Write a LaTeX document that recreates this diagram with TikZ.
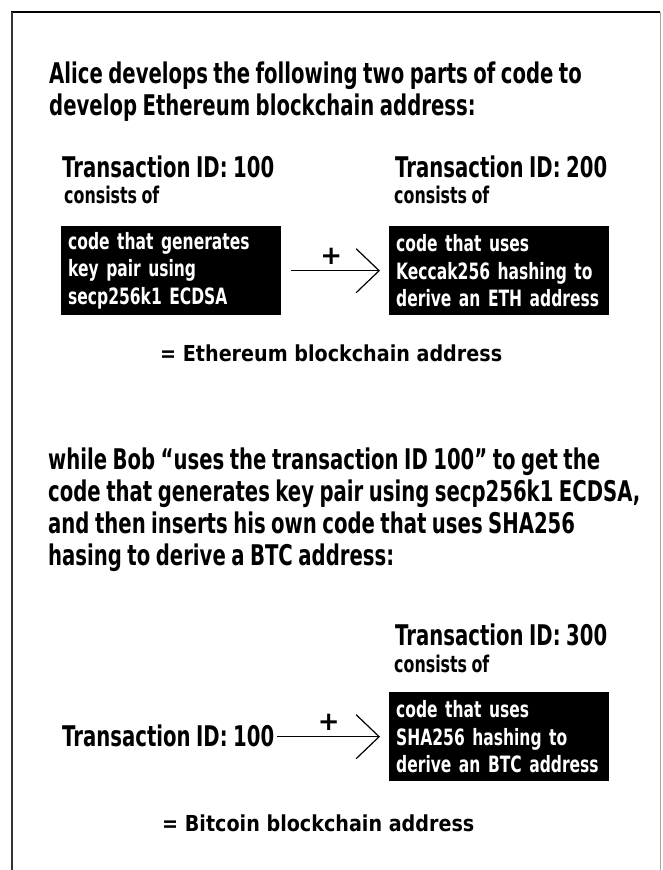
\documentclass[tikz,border=0pt]{standalone}
\usepackage{fontspec}
\usetikzlibrary{arrows.meta,positioning}
\newfontfamily\condbold[FakeStretch=0.69]{DejaVu Sans Bold}
\newfontfamily\boxbold[FakeStretch=0.69,WordSpace=0.8]{DejaVu Sans Bold}
\newfontfamily\eqbold[FakeStretch=0.87]{DejaVu Sans Bold}
\newfontfamily\plusbold{DejaVu Sans Bold}

\begin{document}
\begin{tikzpicture}[x=1pt, y=-1pt, node distance=6pt,
  heading/.style={font=\condbold\fontsize{28.5}{32}\selectfont, align=left, inner sep=0pt, anchor=north west},
  txid/.style={font=\condbold\fontsize{28.5}{32}\selectfont, inner sep=0pt, anchor=base west},
  sub/.style={font=\condbold\fontsize{23}{27.5}\selectfont, inner sep=0pt, anchor=base west},
  codebox/.style={fill=black, text=white, font=\boxbold\fontsize{22.5}{27.5}\selectfont, align=left, text width=206pt, inner xsep=7pt, inner ysep=5pt, minimum height=89pt, anchor=north west},
  result/.style={font=\eqbold\fontsize{22}{26}\selectfont, inner sep=0pt, anchor=base west},
  pil/.style={-{Straight Barb[length=23pt, width=44pt, line width=1.2pt]}, line width=1.2pt},
  plus/.style={font=\plusbold\fontsize{26}{26}\selectfont, inner sep=0pt}]
  \useasboundingbox (0,0) rectangle (662,870);

  % frame, open at the bottom
  \draw[line width=2.4pt] (11,12) -- (660,12);
  \draw[line width=2pt, black!80] (12,12) -- (12,870);
  \draw[line width=0.8pt, black!35] (660,12) -- (660,870);

  % Alice
  \node[heading] (intro) at (49,61.3) {Alice develops the following two parts of code to\\develop Ethereum blockchain address:};
  \node[txid] (tx100) at (62,177) {Transaction ID: 100};
  \node[sub] (cons1) at (64,203) {consists of};
  \node[txid] (tx200) at (395,177) {Transaction ID: 200};
  \node[sub] (cons2) at (394,203.5) {consists of};
  \node[codebox] (keygen) at (61,226) {code that generates\\key pair using\\secp256k1 ECDSA};
  \node[codebox] (keccak) at (389,226) {code that uses\\Keccak256 hashing to\\derive an ETH address};
  \node[result] (eth) at (160,361) {= Ethereum blockchain address};

  % Bob
  \node[heading] (bob) at (48,447.3) {while Bob “uses the transaction ID 100” to get the\\code that generates key pair using secp256k1 ECDSA,\\and then inserts his own code that uses SHA256\\hasing to derive a BTC address:};
  \node[txid] (tx300) at (395,645) {Transaction ID: 300};
  \node[sub] (cons3) at (394,672) {consists of};
  \node[codebox] (sha) at (389,692) {code that uses\\SHA256 hashing to\\derive an BTC address};
  \node[txid] (tx100b) at (62,746) {Transaction ID: 100};
  \node[result] (btc) at (162,831) {= Bitcoin blockchain address};

  \draw[pil] ([xshift=10pt]keygen.east) -- ([xshift=-9pt]keccak.west) node[plus, pos=0.45, above=6pt] {+};
  \draw[pil] ([xshift=3pt]tx100b.east |- sha.west) -- ([xshift=-9pt]sha.west) node[plus, pos=0.5, above=6pt] {+};
\end{tikzpicture}
\end{document}
